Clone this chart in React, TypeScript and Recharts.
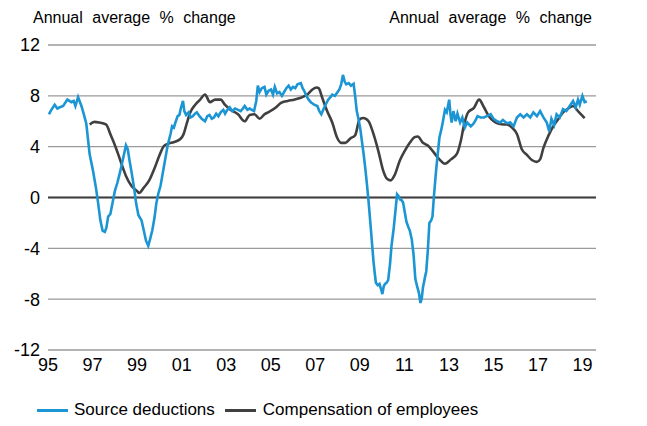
import React from 'react';
import { LineChart, Line, XAxis, YAxis, CartesianGrid, ReferenceLine } from 'recharts';

// Source deductions, annual average % change (time as decimal year)
const sourceYears = [
  1995.04, 1995.15, 1995.3, 1995.42, 1995.53, 1995.68, 1995.87, 1996.05, 1996.15, 1996.23,
  1996.35, 1996.5, 1996.6, 1996.72, 1996.87, 1997.02, 1997.15, 1997.24, 1997.35, 1997.45,
  1997.55, 1997.62, 1997.7, 1997.8, 1997.9, 1998.0, 1998.12, 1998.22, 1998.3, 1998.4,
  1998.5, 1998.58, 1998.66, 1998.76, 1998.86, 1998.96, 1999.06, 1999.2, 1999.3, 1999.4,
  1999.5, 1999.58, 1999.68, 1999.78, 1999.86, 1999.95, 2000.05, 2000.13, 2000.2, 2000.27,
  2000.35, 2000.42, 2000.5, 2000.57, 2000.65, 2000.72, 2000.82, 2000.9, 2000.96, 2001.06,
  2001.12, 2001.2, 2001.31, 2001.4, 2001.5, 2001.6, 2001.68, 2001.8, 2001.9, 2002.05,
  2002.15, 2002.25, 2002.35, 2002.45, 2002.55, 2002.65, 2002.75, 2002.87, 2002.95, 2003.05,
  2003.16, 2003.27, 2003.4, 2003.53, 2003.65, 2003.75, 2003.83, 2003.95, 2004.05, 2004.15,
  2004.25, 2004.35, 2004.42, 2004.5, 2004.6, 2004.72, 2004.8, 2004.9, 2005.01, 2005.1,
  2005.18, 2005.28, 2005.39, 2005.5, 2005.6, 2005.7, 2005.8, 2005.9, 2006.0, 2006.1,
  2006.2, 2006.35, 2006.43, 2006.5, 2006.6, 2006.7, 2006.8, 2006.95, 2007.09, 2007.18,
  2007.27, 2007.38, 2007.46, 2007.58, 2007.68, 2007.76, 2007.88, 2008.0, 2008.08, 2008.16,
  2008.24, 2008.32, 2008.39, 2008.5, 2008.6, 2008.72, 2008.8, 2008.86, 2008.94, 2009.02,
  2009.09, 2009.17, 2009.24, 2009.32, 2009.39, 2009.49, 2009.55, 2009.61, 2009.67, 2009.72,
  2009.8, 2009.88, 2009.95, 2010.01, 2010.07, 2010.13, 2010.2, 2010.27, 2010.35, 2010.42,
  2010.52, 2010.6, 2010.67, 2010.74, 2010.8, 2010.87, 2010.94, 2011.02, 2011.09, 2011.17,
  2011.24, 2011.33, 2011.41, 2011.49, 2011.57, 2011.65, 2011.72, 2011.78, 2011.83, 2011.92,
  2011.98, 2012.05, 2012.12, 2012.2, 2012.26, 2012.32, 2012.42, 2012.5, 2012.57, 2012.65,
  2012.72, 2012.82, 2012.9, 2013.01, 2013.07, 2013.12, 2013.2, 2013.3, 2013.38, 2013.5,
  2013.6, 2013.71, 2013.82, 2013.98, 2014.1, 2014.2, 2014.28, 2014.42, 2014.57, 2014.7,
  2014.87, 2015.0, 2015.16, 2015.3, 2015.42, 2015.6, 2015.75, 2015.9, 2016.05, 2016.2,
  2016.35, 2016.5, 2016.65, 2016.79, 2016.95, 2017.09, 2017.24, 2017.39, 2017.5, 2017.6,
  2017.72, 2017.83, 2017.97, 2018.12, 2018.27, 2018.42, 2018.57, 2018.69, 2018.79, 2018.87,
  2018.99, 2019.09, 2019.19,
];
const sourceValues = [
  6.55, 6.9, 7.3, 7.0, 7.1, 7.2, 7.7, 7.5, 7.6, 7.2,
  7.9, 7.2, 6.6, 5.8, 3.4, 2.1, 0.8, -0.3, -1.8, -2.6,
  -2.7, -2.4, -1.5, -1.3, -0.4, 0.5, 1.2, 1.9, 2.5, 3.3,
  4.1, 3.8, 2.9, 1.9, 0.8, -0.5, -1.4, -1.8, -2.6, -3.4,
  -3.8, -3.3, -2.6, -1.6, -0.5, 0.3, 0.9, 1.7, 2.4, 3.1,
  3.9, 4.45, 5.0, 5.6, 5.5, 5.9, 6.4, 6.5, 7.0, 7.6,
  6.8, 6.5, 6.7, 6.3, 6.4, 6.6, 6.7, 6.4, 6.2, 6.0,
  6.4, 6.5, 6.2, 6.3, 6.6, 6.4, 6.7, 6.9, 6.6, 6.9,
  7.1, 6.8, 7.0, 6.9, 6.8, 7.0, 7.2, 6.9, 7.0, 6.9,
  6.8, 7.6, 8.8, 8.3, 8.6, 8.7, 8.1, 8.4, 8.5, 8.1,
  8.7, 8.2, 8.3, 8.0, 8.3, 8.6, 8.8, 8.5, 8.7, 8.6,
  8.9, 9.0, 8.6, 8.4, 8.0, 7.7, 7.5, 7.3, 7.2, 6.8,
  6.55, 7.0, 7.3, 7.7, 7.9, 8.1, 8.0, 8.3, 8.5, 8.9,
  9.65, 9.1, 8.9, 9.0, 8.8, 8.95, 7.8, 6.8, 6.15, 5.4,
  4.45, 3.4, 2.35, 1.0, -0.3, -2.4, -3.7, -5.0, -6.0, -6.7,
  -6.9, -6.8, -7.2, -7.6, -7.0, -6.8, -6.7, -6.5, -5.3, -3.8,
  -2.4, -1.0, 0.25, 0.1, -0.15, -0.2, -0.4, -1.2, -1.9, -2.3,
  -2.6, -3.3, -4.5, -6.4, -7.0, -7.5, -8.3, -7.9, -7.1, -6.3,
  -5.8, -4.2, -2.0, -1.8, -1.5, 0.0, 2.1, 3.5, 4.7, 5.3,
  5.9, 6.9, 6.7, 7.7, 6.5, 5.9, 6.8, 6.0, 6.6, 5.9,
  6.3, 5.5, 5.9, 5.6, 5.8, 6.1, 6.4, 6.3, 6.3, 6.4,
  6.55, 6.2, 6.0, 5.9, 6.1, 5.85, 5.9, 5.6, 6.3, 6.55,
  6.3, 6.55, 6.3, 6.7, 6.4, 6.8, 6.3, 5.9, 5.2, 6.2,
  5.7, 6.55, 6.3, 6.95, 6.8, 7.2, 7.6, 7.1, 7.7, 7.3,
  8.0, 7.5, 7.55,
];

// Compensation of employees, annual average % change
const compYears = [
  1996.87, 1997.09, 1997.3, 1997.6, 1997.83, 1998.05, 1998.28, 1998.5, 1998.75, 1999.0,
  1999.09, 1999.31, 1999.53, 1999.76, 2000.0, 2000.2, 2000.42, 2000.64, 2000.94, 2001.09,
  2001.24, 2001.39, 2001.61, 2001.83, 2002.05, 2002.27, 2002.5, 2002.75, 2002.94, 2003.16,
  2003.53, 2003.83, 2004.05, 2004.27, 2004.5, 2004.72, 2004.94, 2005.24, 2005.46, 2005.76,
  2006.05, 2006.35, 2006.64, 2006.87, 2007.06, 2007.15, 2007.31, 2007.53, 2007.76, 2007.98,
  2008.16, 2008.35, 2008.57, 2008.79, 2008.99, 2009.16, 2009.39, 2009.61, 2009.83, 2010.05,
  2010.23, 2010.38, 2010.57, 2010.79, 2011.01, 2011.24, 2011.46, 2011.6, 2011.83, 2012.05,
  2012.27, 2012.57, 2012.82, 2013.09, 2013.36, 2013.53, 2013.68, 2013.86, 2014.12, 2014.35,
  2014.57, 2014.79, 2015.01, 2015.24, 2015.46, 2015.6, 2015.83, 2016.05, 2016.27, 2016.5,
  2016.72, 2016.94, 2017.09, 2017.24, 2017.46, 2017.68, 2017.9, 2018.12, 2018.35, 2018.57,
  2018.79, 2019.09,
];
const compValues = [
  5.75, 5.95, 5.9, 5.75, 4.85, 3.9, 2.75, 1.7, 0.9, 0.5,
  0.35, 0.8, 1.3, 2.2, 3.3, 4.05, 4.25, 4.35, 4.6, 5.0,
  5.9, 6.7, 7.3, 7.7, 8.1, 7.5, 7.7, 7.7, 7.3, 6.95,
  6.55, 6.0, 6.5, 6.55, 6.2, 6.55, 6.75, 7.1, 7.45, 7.6,
  7.7, 7.85, 8.1, 8.5, 8.65, 8.6, 7.85, 6.8, 5.9, 4.7,
  4.3, 4.3, 4.65, 4.9, 6.15, 6.25, 6.0, 5.0, 3.65, 2.1,
  1.45, 1.35, 1.8, 2.9, 3.65, 4.3, 4.75, 4.8, 4.3, 4.1,
  3.65, 3.0, 2.65, 3.0, 3.45, 4.45, 5.75, 6.7, 7.05, 7.7,
  7.1, 6.4, 6.0, 5.8, 5.75, 5.75, 5.5, 5.0, 3.8, 3.35,
  2.95, 2.8, 3.0, 3.9, 4.85, 5.6, 6.15, 6.7, 7.0, 7.2,
  6.8, 6.25,
];

const xTicks = [1995, 1997, 1999, 2001, 2003, 2005, 2007, 2009, 2011, 2013, 2015, 2017, 2019];
const yTicks = [-12, -8, -4, 0, 4, 8, 12];

const BLUE = '#1b95d3';
const DARK = '#404040';
const FONT = '"Liberation Sans", Arial, sans-serif';

const sourceData = sourceYears.map((t, i) => ({ t, v: sourceValues[i] }));
const compData = compYears.map((t, i) => ({ t, v: compValues[i] }));

const tickStyle = { fontSize: 18, fill: '#000', fontFamily: FONT };

export default function App() {
  return (
    <div style={{ position: 'absolute', left: 0, top: 0, width: 647, height: 426, background: '#fff', fontFamily: FONT }}>
      <div style={{ position: 'absolute', left: 33, top: 9, fontSize: 16, wordSpacing: 5, color: '#000' }}>
        Annual average % change
      </div>
      <div style={{ position: 'absolute', right: 55, top: 9, fontSize: 16, wordSpacing: 5, color: '#000' }}>
        Annual average % change
      </div>
      <LineChart width={647} height={426} margin={{ top: 45, right: 11, bottom: 46, left: 8 }}>
        <CartesianGrid vertical={false} stroke="#9a9a9a" strokeWidth={1.3} yAxisId="left" />
        <XAxis
          dataKey="t"
          type="number"
          domain={[1995, 2019.6]}
          ticks={xTicks}
          tickFormatter={(y: number) => String(y % 100).padStart(2, '0')}
          axisLine={false}
          tickLine={false}
          tick={tickStyle}
          height={30}
          allowDataOverflow
        />
        <YAxis
          yAxisId="left"
          domain={[-12, 12]}
          ticks={yTicks}
          axisLine={false}
          tickLine={false}
          tick={tickStyle}
          width={40}
        />
        <YAxis
          yAxisId="right"
          orientation="right"
          domain={[-12, 12]}
          ticks={yTicks}
          axisLine={false}
          tickLine={false}
          tick={{ ...tickStyle, textAnchor: 'start' }}
          width={40}
        />
        <ReferenceLine yAxisId="left" y={0} stroke={DARK} strokeWidth={2.2} />
        <Line
          yAxisId="left"
          data={compData}
          dataKey="v"
          name="Compensation of employees"
          type="monotone"
          stroke={DARK}
          strokeWidth={2.6}
          dot={false}
          isAnimationActive={false}
        />
        <Line
          yAxisId="left"
          data={sourceData}
          dataKey="v"
          name="Source deductions"
          type="linear"
          stroke={BLUE}
          strokeWidth={2.6}
          dot={false}
          isAnimationActive={false}
        />
      </LineChart>
      <div style={{ position: 'absolute', left: 37, top: 400, display: 'flex', alignItems: 'center', fontSize: 17, color: '#000' }}>
        <span style={{ display: 'inline-block', width: 31, height: 3, background: BLUE, marginRight: 6 }} />
        <span>Source deductions</span>
        <span style={{ display: 'inline-block', width: 31, height: 3, background: DARK, marginLeft: 10, marginRight: 7 }} />
        <span>Compensation of employees</span>
      </div>
    </div>
  );
}
